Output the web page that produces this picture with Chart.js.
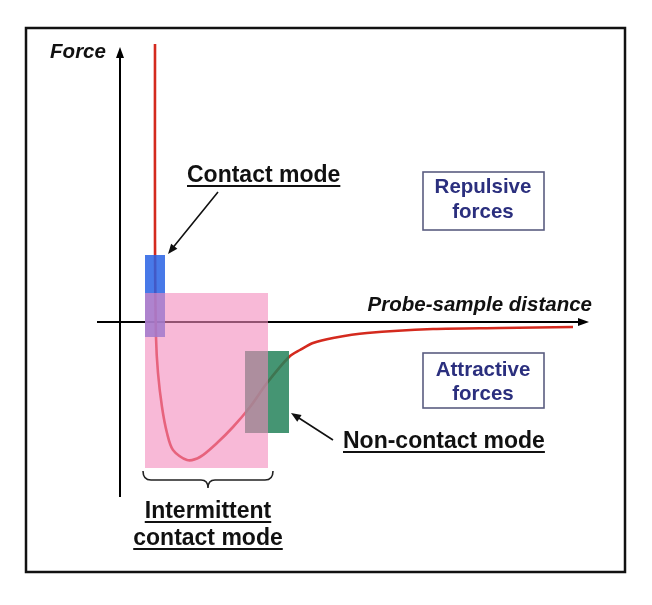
<!DOCTYPE html>
<html>
<head>
<meta charset="utf-8">
<script src="https://cdn.jsdelivr.net/npm/chart.js@4.4.0/dist/chart.umd.min.js"></script>
<style>
  html, body { margin: 0; padding: 0; background: #fff; }
  canvas { display: block; }
</style>
</head>
<body>
<canvas id="forceChart" width="652" height="605"></canvas>
<script>
// Force vs probe-sample distance (arbitrary units, origin = axis crossing)
const distance = [3.5, 3.5, 3.6, 3.8, 4.2, 4.7, 5.3, 6.7, 8.0, 9.7, 11.3, 13.0, 14.7, 16.9, 18.0, 19.3, 21.3, 24.7, 31.3, 38.0, 45.3];
const force = [27.8, 8.2, -1.5, -5.1, -8.5, -11.1, -12.8, -13.8, -13.5, -12.1, -10.5, -8.5, -6.1, -3.5, -2.8, -2.1, -1.6, -1.1, -0.7, -0.6, -0.5];

// operating regions: contact, non-contact, intermittent
const regionNames = ['Contact mode', 'Non-contact mode', 'Intermittent contact mode'];
const regionX0 = [2.5, 12.5, 2.5];
const regionX1 = [4.5, 16.9, 14.8];
const regionY0 = [-1.5, -11.1, -14.6];
const regionY1 = [6.7, -2.9, 2.9];

const forceLabels = ['Repulsive forces', 'Attractive forces'];
const axisNames = ['Probe-sample distance', 'Force'];

const FONT = '"Liberation Sans", Arial, sans-serif';

function arrowHead(ctx, x0, y0, x1, y1, len, half) {
    const a = Math.atan2(y1 - y0, x1 - x0);
    ctx.beginPath();
    ctx.moveTo(x1, y1);
    ctx.lineTo(x1 - len * Math.cos(a) + half * Math.sin(a), y1 - len * Math.sin(a) - half * Math.cos(a));
    ctx.lineTo(x1 - len * Math.cos(a) - half * Math.sin(a), y1 - len * Math.sin(a) + half * Math.cos(a));
    ctx.closePath();
    ctx.fill();
}

function underlined(ctx, str, x, y) {
    ctx.fillText(str, x, y);
    const w = ctx.measureText(str).width;
    let left = x;
    if (ctx.textAlign === 'center') left = x - w / 2;
    if (ctx.textAlign === 'right') left = x - w;
    ctx.fillRect(left, y + 3, w, 2);
}

const diagramPlugin = {
    id: 'diagram',
    beforeDatasetsDraw(chart) {
        const { ctx } = chart;
        const X = v => chart.scales.x.getPixelForValue(v);
        const Y = v => chart.scales.y.getPixelForValue(v);
        ctx.save();
        // frame
        ctx.strokeStyle = '#111';
        ctx.lineWidth = 2.5;
        ctx.strokeRect(X(-9.4), Y(29.4), X(50.5) - X(-9.4), Y(-25.0) - Y(29.4));
        // axes
        ctx.strokeStyle = '#000';
        ctx.fillStyle = '#000';
        ctx.lineWidth = 2;
        ctx.beginPath();
        ctx.moveTo(X(0), Y(-17.5));
        ctx.lineTo(X(0), Y(27.0));
        ctx.moveTo(X(-2.3), Y(0));
        ctx.lineTo(X(46.5), Y(0));
        ctx.stroke();
        arrowHead(ctx, X(0), Y(0), X(0), Y(27.5), 11, 4);
        arrowHead(ctx, X(0), Y(0), X(46.9), Y(0), 11, 4);
        ctx.restore();
    },
    afterDatasetsDraw(chart) {
        const { ctx } = chart;
        const X = v => chart.scales.x.getPixelForValue(v);
        const Y = v => chart.scales.y.getPixelForValue(v);
        const colors = ['rgba(40,98,228,0.85)', 'rgba(37,131,90,0.85)', 'rgba(243,138,188,0.6)'];
        ctx.save();
        regionNames.forEach((name, i) => {
            ctx.fillStyle = colors[i];
            ctx.fillRect(X(regionX0[i]), Y(regionY1[i]), X(regionX1[i]) - X(regionX0[i]), Y(regionY0[i]) - Y(regionY1[i]));
        });

        // brace under intermittent region
        const bx0 = X(2.3), bx1 = X(15.3), bc = X(8.8);
        const bt = Y(-14.9), bm = Y(-15.8), bb = Y(-16.6);
        ctx.strokeStyle = '#222';
        ctx.lineWidth = 1.6;
        ctx.beginPath();
        ctx.moveTo(bx0, bt);
        ctx.quadraticCurveTo(bx0, bm, bx0 + 8, bm);
        ctx.lineTo(bc - 7, bm);
        ctx.quadraticCurveTo(bc, bm, bc, bb);
        ctx.quadraticCurveTo(bc, bm, bc + 7, bm);
        ctx.lineTo(bx1 - 8, bm);
        ctx.quadraticCurveTo(bx1, bm, bx1, bt);
        ctx.stroke();

        // pointer arrows
        ctx.strokeStyle = '#111';
        ctx.fillStyle = '#111';
        ctx.lineWidth = 1.6;
        ctx.beginPath();
        ctx.moveTo(X(9.8), Y(13.0));
        ctx.lineTo(X(5.1), Y(7.2));
        ctx.moveTo(X(21.3), Y(-11.8));
        ctx.lineTo(X(17.5), Y(-9.35));
        ctx.stroke();
        arrowHead(ctx, X(9.8), Y(13.0), X(4.8), Y(6.8), 10, 4);
        arrowHead(ctx, X(21.3), Y(-11.8), X(17.1), Y(-9.1), 10, 4);

        // axis names
        ctx.fillStyle = '#111';
        ctx.textBaseline = 'alphabetic';
        ctx.font = 'bold italic 20.5px ' + FONT;
        ctx.textAlign = 'right';
        ctx.fillText(axisNames[0], X(47.2), Y(1.1));
        ctx.textAlign = 'center';
        ctx.fillText(axisNames[1], X(-4.2), Y(26.4));

        // mode labels
        ctx.font = 'bold 23px ' + FONT;
        ctx.textAlign = 'left';
        underlined(ctx, regionNames[0], X(6.7), Y(14.0));
        underlined(ctx, regionNames[1], X(22.3), Y(-12.6));
        ctx.textAlign = 'center';
        underlined(ctx, 'Intermittent', X(8.8), Y(-19.6));
        underlined(ctx, 'contact mode', X(8.8), Y(-22.3));

        // force boxes
        const boxY1 = [15.0, -3.1], boxY0 = [9.2, -8.6];
        const lineY = [[12.9, 10.4], [-5.4, -7.8]];
        ctx.font = 'bold 20.5px ' + FONT;
        forceLabels.forEach((lab, i) => {
            ctx.strokeStyle = '#5a5d80';
            ctx.lineWidth = 1.6;
            ctx.strokeRect(X(30.3), Y(boxY1[i]), X(42.4) - X(30.3), Y(boxY0[i]) - Y(boxY1[i]));
            ctx.fillStyle = '#2b2f7e';
            const words = lab.split(' ');
            ctx.fillText(words[0], X(36.3), Y(lineY[i][0]));
            ctx.fillText(words[1], X(36.3), Y(lineY[i][1]));
        });
        ctx.restore();
    }
};

const ctxForce = document.getElementById('forceChart').getContext('2d');
const forceChart = new Chart(ctxForce, {
    type: 'line',
    data: {
        datasets: [{
            label: 'Force',
            data: distance.map((d, i) => ({ x: d, y: force[i] })),
            borderColor: '#d42a1e',
            borderWidth: 2.6,
            pointRadius: 0,
            tension: 0.3,
            fill: false
        }]
    },
    options: {
        responsive: false,
        animation: false,
        devicePixelRatio: 1,
        layout: { padding: 0 },
        plugins: {
            legend: { display: false },
            tooltip: { enabled: false }
        },
        scales: {
            x: { type: 'linear', min: -12, max: 53.2, display: false },
            y: { type: 'linear', min: -28.3, max: 32.2, display: false }
        }
    },
    plugins: [diagramPlugin]
});
</script>
</body>
</html>
